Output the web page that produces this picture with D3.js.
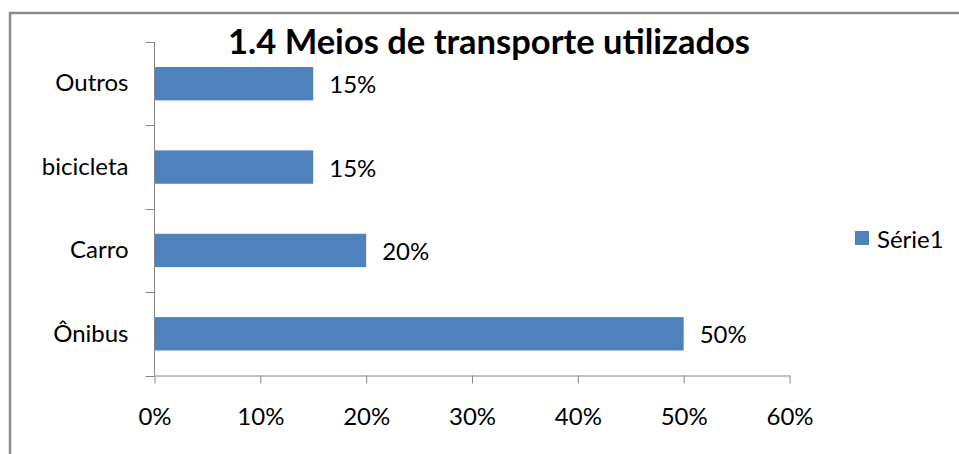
<!DOCTYPE html>
<html>
<head>
<meta charset="utf-8">
<script src="https://cdn.jsdelivr.net/npm/d3@7"></script>
<style>
  body { margin: 0; background: #fff; }
  text { font-family: Lato, "Open Sans", sans-serif; fill: #000; }
</style>
</head>
<body>
<div id="chart"></div>
<script>
var categories = ["Outros", "bicicleta", "Carro", "Ônibus"];
var values = [0.15, 0.15, 0.20, 0.50];
var xTicks = [0, 0.1, 0.2, 0.3, 0.4, 0.5, 0.6];
var seriesName = "Série1";
var title = "1.4 Meios de transporte utilizados";

var width = 959, height = 454;
var margin = {top: 42, left: 154.5, right: 170, bottom: 78.5};

var svg = d3.select("#chart")
    .append("svg")
        .attr("width", width)
        .attr("height", height);

// outer frame
svg.append("path")
    .attr("d", "M10,454V13H959")
    .attr("fill", "none")
    .attr("stroke", "#8a8a8a")
    .attr("stroke-width", 2.5);

var x = d3.scaleLinear()
    .domain([0, 0.6])
    .range([margin.left, margin.left + 635]);

var y = d3.scaleBand()
    .domain(categories)
    .range([margin.top, height - margin.bottom])
    .paddingInner(0.6)
    .paddingOuter(0.3);

var axisColor = "#868686";

// bars
svg.selectAll("rect.bar")
    .data(values)
    .enter()
    .append("rect")
        .attr("class", "bar")
        .attr("x", x(0))
        .attr("y", (d,i)=>y(categories[i]))
        .attr("width", d=>x(d) - x(0))
        .attr("height", y.bandwidth())
        .attr("fill", "#4f81bd");

// value labels
svg.selectAll("text.val")
    .data(values)
    .enter()
    .append("text")
        .attr("class", "val")
        .attr("x", d=>x(d) + 16)
        .attr("y", (d,i)=>y(categories[i]) + y.bandwidth()/2)
        .attr("dominant-baseline", "central")
        .style("font-size", "24px")
        .text(d=>d3.format(".0%")(d));

// x axis
var xAxis = svg.append("g")
    .attr("transform", "translate(0," + y.range()[1] + ")")
    .call(d3.axisBottom(x).tickValues(xTicks).tickFormat(d3.format(".0%")).tickSize(8).tickSizeOuter(0).tickPadding(24));
xAxis.select(".domain").attr("stroke", axisColor);
xAxis.selectAll(".tick line").attr("stroke", axisColor);
xAxis.selectAll("text").style("font-size", "24px").attr("font-family", null).attr("fill", "#000");

// y axis: labels at band centres, ticks at band boundaries
var yAxis = svg.append("g")
    .attr("transform", "translate(" + margin.left + ",0)")
    .call(d3.axisLeft(y).tickSize(0).tickPadding(26));
yAxis.select(".domain").remove();
yAxis.selectAll("text").style("font-size", "24px").attr("font-family", null).attr("fill", "#000");

svg.append("line")
    .attr("x1", margin.left).attr("x2", margin.left)
    .attr("y1", y.range()[0]).attr("y2", y.range()[1])
    .attr("stroke", axisColor);

var bounds = d3.range(categories.length + 1).map(i=>y.range()[0] + i*y.step());
svg.selectAll("line.ytick")
    .data(bounds)
    .enter()
    .append("line")
        .attr("class", "ytick")
        .attr("x1", margin.left - 9).attr("x2", margin.left)
        .attr("y1", d=>Math.round(d) + 0.5).attr("y2", d=>Math.round(d) + 0.5)
        .attr("stroke", axisColor);

// title
svg.append("text")
    .attr("x", 489)
    .attr("y", 54)
    .attr("text-anchor", "middle")
    .style("font-size", "34.5px")
    .style("font-weight", "bold")
    .text(title);

// legend
var legend = svg.append("g").attr("transform", "translate(855,231)");
legend.append("rect")
    .attr("width", 14).attr("height", 14)
    .attr("fill", "#4f81bd");
legend.append("text")
    .attr("x", 22).attr("y", 7)
    .attr("dominant-baseline", "central")
    .style("font-size", "24px")
    .text(seriesName);
</script>
</body>
</html>
